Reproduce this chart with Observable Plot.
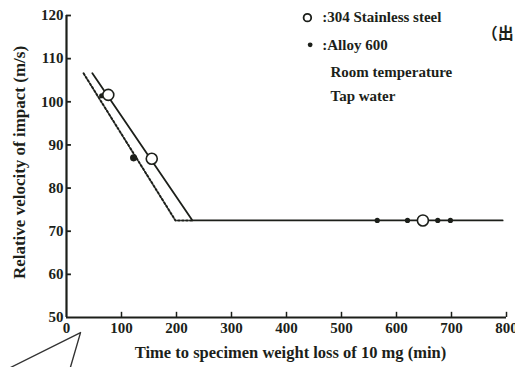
<!DOCTYPE html>
<html>
<head>
<meta charset="utf-8">
<script src="https://cdn.jsdelivr.net/npm/d3@7"></script>
<script src="https://cdn.jsdelivr.net/npm/@observablehq/plot@0.6"></script>
<style>
  html, body { margin: 0; padding: 0; background: #fff; }
  #chart svg { display: block; }
</style>
</head>
<body>
<div id="chart"></div>
<script>
// ---- data ----
const xTicks = [0, 100, 200, 300, 400, 500, 600, 700, 800];
const yTicks = [50, 60, 70, 80, 90, 100, 110, 120];

// 304 stainless steel (open circles)
const ssX = [76, 155, 648];
const ssY = [101.6, 86.8, 72.5];

// Alloy 600 (filled dots)
const alloyX = [64, 565, 620, 675, 698];
const alloyY = [101.4, 72.5, 72.5, 72.5, 72.5];
const alloyBigX = [122];
const alloyBigY = [87];

// fitted lines
const solidX = [47, 229, 793];
const solidY = [106.6, 72.5, 72.5];
const dottedX = [31, 198, 229];
const dottedY = [106.6, 72.5, 72.5];

// annotation pointer below axis
const pointerX = [-102, 25.5, 7];
const pointerY = [38.4, 46.5, 38.4];

// legend
const legendLabels = [":304 Stainless steel", ":Alloy 600", "Room temperature", "Tap water"];
const legendY = [119.5, 113.2, 106.8, 101.4];

const ink = "#1c1f1a";
const serif = "'Liberation Serif', 'DejaVu Serif', serif";

const zip = (xs, ys) => xs.map((x, i) => ({x, y: ys[i]}));

const chart = Plot.plot({
  width: 515,
  height: 367,
  marginLeft: 66,
  marginRight: 9,
  marginTop: 15,
  marginBottom: 50,
  style: {fontFamily: serif, fontWeight: "bold", fontSize: "13px", color: ink, background: "#fff"},
  x: {domain: [0, 800], axis: null},
  y: {domain: [50, 120], axis: null},
  marks: [
    // tick labels
    Plot.text(xTicks, {x: d => d, y: 50, dy: 11, text: d => String(d), fontSize: 15, fontWeight: "bold", fill: ink, clip: false}),
    Plot.text(yTicks, {x: 0, y: d => d, dx: -3, textAnchor: "end", text: d => String(d), fontSize: 15, fontWeight: "bold", fill: ink}),
    // inward ticks
    Plot.ruleY(yTicks.slice(1), {y: d => d, x1: 0, x2: 9, stroke: ink, strokeWidth: 1.8}),
    Plot.ruleX(xTicks.slice(1), {x: d => d, y1: 50, y2: 51.2, stroke: ink, strokeWidth: 1.5}),
    // axis lines
    Plot.ruleX([0], {y1: 50, y2: 120, stroke: ink, strokeWidth: 2.2}),
    Plot.ruleY([50], {x1: 0, x2: 800, stroke: ink, strokeWidth: 2.2}),
    // fitted lines
    Plot.line(zip(dottedX, dottedY), {x: "x", y: "y", stroke: ink, strokeWidth: 2, strokeDasharray: "2,2"}),
    Plot.line(zip(solidX, solidY), {x: "x", y: "y", stroke: ink, strokeWidth: 1.8}),
    // data points
    Plot.dot(zip(alloyX, alloyY), {x: "x", y: "y", r: 2.6, fill: ink, stroke: "none"}),
    Plot.dot(zip(alloyBigX, alloyBigY), {x: "x", y: "y", r: 3.6, fill: ink, stroke: "none"}),
    Plot.dot(zip(ssX, ssY), {x: "x", y: "y", r: 5.5, fill: "#fff", stroke: ink, strokeWidth: 1.6}),
    // pointer
    Plot.line(zip(pointerX, pointerY), {x: "x", y: "y", stroke: "#333", strokeWidth: 1.4, clip: false}),
    // axis titles
    Plot.text(["Time to specimen weight loss of 10 mg (min)"], {
      frameAnchor: "bottom", dx: 4, dy: 40, fontSize: 16.5, fontWeight: "bold", fill: ink, text: d => d
    }),
    Plot.text(["Relative velocity of impact (m/s)"], {
      frameAnchor: "left", textAnchor: "middle", dx: -47, dy: -4, rotate: -90, fontSize: 17, fontWeight: "bold", fill: ink, text: d => d
    }),
    // legend
    Plot.dot([0], {x: 438, y: legendY[0], r: 3.8, fill: "#fff", stroke: ink, strokeWidth: 1.8}),
    Plot.dot([0], {x: 443, y: legendY[1], r: 2.4, fill: ink, stroke: "none"}),
    Plot.text(legendLabels.slice(0, 2), {x: 465, y: (d, i) => legendY[i], textAnchor: "start", fontSize: 15, fontWeight: "bold", fill: ink, text: d => d}),
    Plot.text(legendLabels.slice(2), {x: 480, y: (d, i) => legendY[i + 2], textAnchor: "start", fontSize: 15, fontWeight: "bold", fill: ink, text: d => d}),
    Plot.text(["（出"], {x: 755, y: 115.8, textAnchor: "start", fontSize: 16, fontWeight: "bold", fontFamily: "'Noto Sans CJK JP', sans-serif", fill: ink, text: d => d})
  ]
});
document.getElementById("chart").appendChild(chart);
</script>
</body>
</html>
